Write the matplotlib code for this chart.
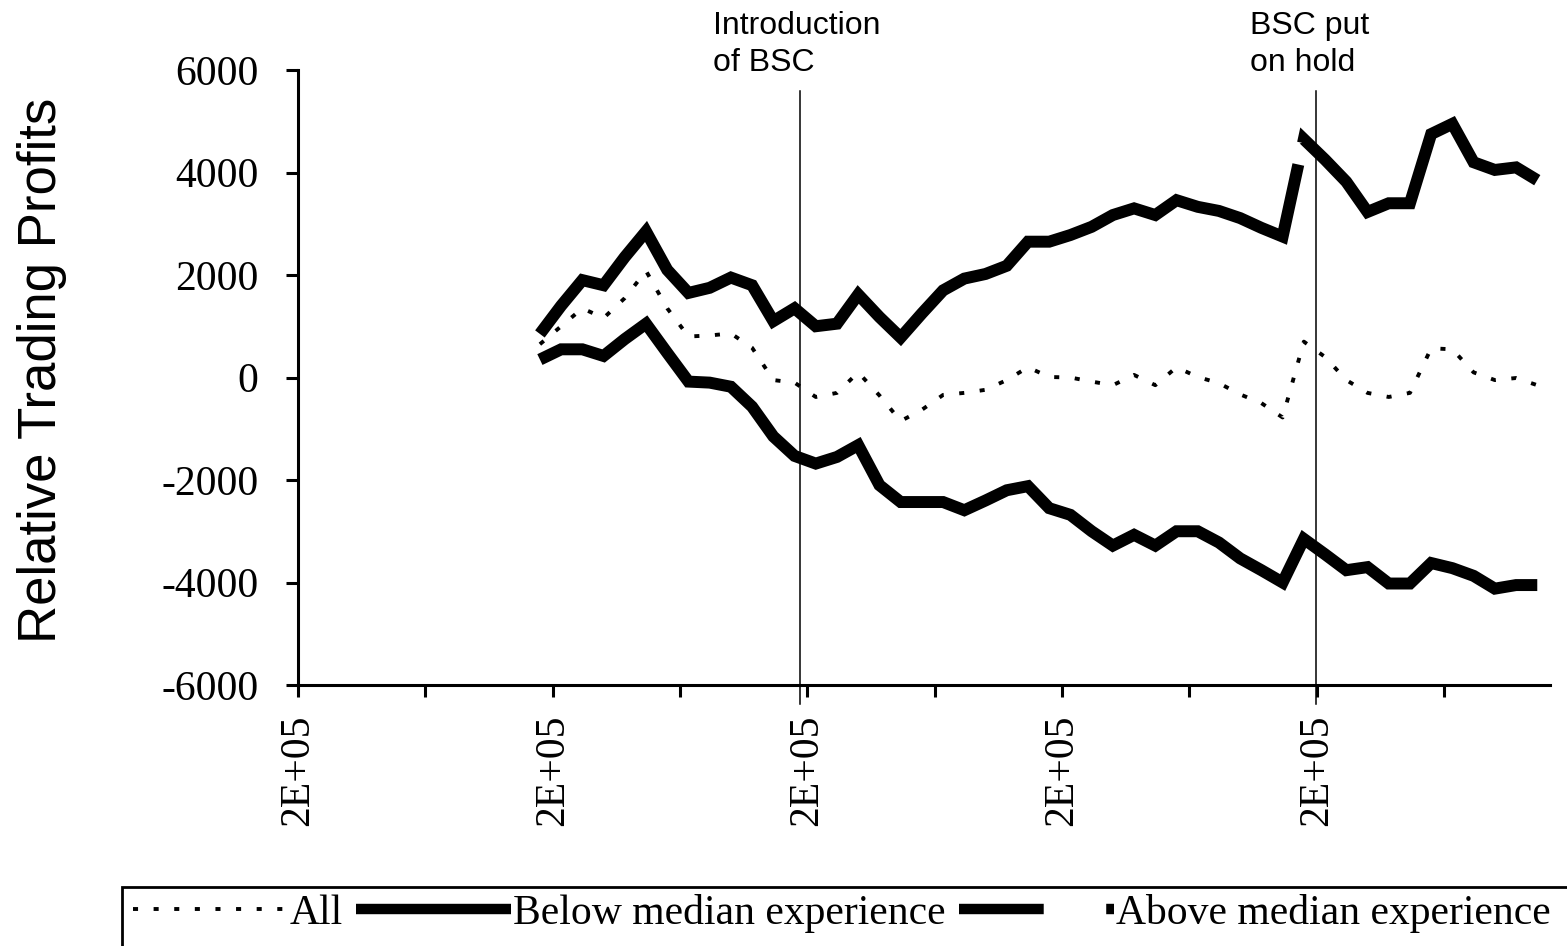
import numpy as np
import matplotlib
matplotlib.use("Agg")
import matplotlib.pyplot as plt
from matplotlib.lines import Line2D
from matplotlib.patches import Rectangle

# weekly periods, values
period = np.arange(48)

all_traders = [650, 1000, 1350, 1160, 1550, 2080, 1350, 800, 820, 860, 580, -50,
               -100, -380, -300, 100, -350, -850, -630, -340, -300, -240, -50, 200,
               10, 0, -80, -150, 50, -150, 200, 10, -110, -330, -500, -780,
               700, 400, -50, -300, -380, -300, 570, 550, 100, -50, -10, -150]

below_median = [350, 550, 550, 420, 750, 1050, 480, -80, -100, -180, -570, -1150,
                -1530, -1680, -1550, -1320, -2100, -2430, -2430, -2430, -2590, -2400, -2200, -2120,
                -2550, -2680, -3000, -3280, -3070, -3280, -3000, -3000, -3220, -3530, -3760, -4000,
                -3150, -3450, -3760, -3700, -4020, -4020, -3620, -3720, -3870, -4120, -4050, -4050]

above_median = [850, 1400, 1900, 1800, 2350, 2850, 2100, 1650, 1750, 1950, 1800, 1100,
                1350, 1000, 1050, 1620, 1180, 780, 1250, 1700, 1930, 2020, 2180, 2650,
                2650, 2780, 2940, 3170, 3300, 3170, 3460, 3330, 3250, 3110, 2920, 2750,
                4650, 4250, 3820, 3230, 3400, 3400, 4750, 4950, 4200, 4050, 4100, 3850]

events = [12.24, 36.56]
event_labels = ["Introduction\nof BSC", "BSC put\non hold"]

major_ticks = [-11.4, 0.6, 12.6, 24.6, 36.6]
minor_ticks = [-5.4, 6.6, 18.6, 30.6, 42.6]
tick_label = "2E+05"

W, H = 1567, 946
fig = plt.figure(figsize=(W / 100, H / 100), dpi=100)
ax = fig.add_axes([298 / W, 1 - 685 / H, (1550 - 298) / W, (685 - 70) / H])

serif = "Liberation Serif"
sans = "Liberation Sans"
fs = 30

ax.set_xlim(-11.4, 47.6)
ax.set_ylim(-6000, 6000)

thick = 8.6
ax.plot(period, all_traders, color="k", lw=2.8, linestyle=(0, (1.3, 4)),
        dash_capstyle="butt")
ax.plot(period, below_median, color="k", lw=thick, solid_capstyle="butt",
        solid_joinstyle="miter")
line_above, = ax.plot(period, above_median, color="k", lw=thick,
                      dash_capstyle="butt", dash_joinstyle="miter")

# long dash: one dash up to just before the peak after the hold, then a short gap
pts = ax.transData.transform(np.column_stack([period, above_median]))
seg = np.hypot(*np.diff(pts, axis=0).T)
on_len = (seg[:35].sum() + 0.74 * seg[35]) * 72 / 100
gap_len = 22 * 72 / 100
line_above.set_linestyle((0, (on_len / thick, gap_len / thick, 3000 / thick, 1)))

for xe in events:
    ax.plot([xe, xe], [-6370, 5600], color="k", lw=1.1, clip_on=False)

ax.text(events[0] - 4.08, 7150, event_labels[0], fontsize=23, family=sans,
        ha="left", va="top", linespacing=1.3, clip_on=False)
ax.text(events[1] - 3.11, 7150, event_labels[1], fontsize=23, family=sans,
        ha="left", va="top", linespacing=1.3, clip_on=False)

for s in ["top", "right"]:
    ax.spines[s].set_visible(False)
for s in ["left", "bottom"]:
    ax.spines[s].set_linewidth(2.2)

ax.set_yticks(np.arange(-6000, 6001, 2000))
ax.set_yticklabels([str(v) for v in range(-6000, 6001, 2000)], family=serif, fontsize=fs)
ax.set_xticks(major_ticks)
ax.set_xticklabels([tick_label] * len(major_ticks), family=serif, fontsize=fs,
                   rotation=90)
ax.set_xticks(minor_ticks, minor=True)
ax.tick_params(axis="y", direction="out", length=8.6, width=2.2, pad=20)
ax.tick_params(axis="x", which="both", direction="out", length=8.6, width=2.2, pad=13)

fig.text(42 / W, 1 - 370 / H, "Relative Trading Profits", rotation=90,
         fontsize=38, family=sans, ha="center", va="center")

h_all = Line2D([], [], color="k", lw=2.8, linestyle=(0, (1.3, 4)), dash_capstyle="butt")
h_below = Line2D([], [], color="k", lw=7.5, solid_capstyle="butt")
h_above = Line2D([], [], color="k", lw=7.5, linestyle=(0, (61 / 7.5, 45 / 7.5)),
                 dash_capstyle="butt")
fig.legend([h_all, h_below, h_above],
           ["All", "Below median experience", "Above median experience"],
           loc="upper left", bbox_to_anchor=(133 / W, 1 - 894 / H), ncol=3,
           frameon=False, borderpad=0, borderaxespad=0, handlelength=3.72,
           handletextpad=0.04, columnspacing=0.32,
           prop={"family": serif, "size": fs})
fig.add_artist(Rectangle((122 / W, -0.2), 1.0, 0.2 + 1 - 887 / H,
                         transform=fig.transFigure, fill=False, lw=2.0,
                         ec="k", clip_on=False))

fig.savefig("out.png", dpi=100)
